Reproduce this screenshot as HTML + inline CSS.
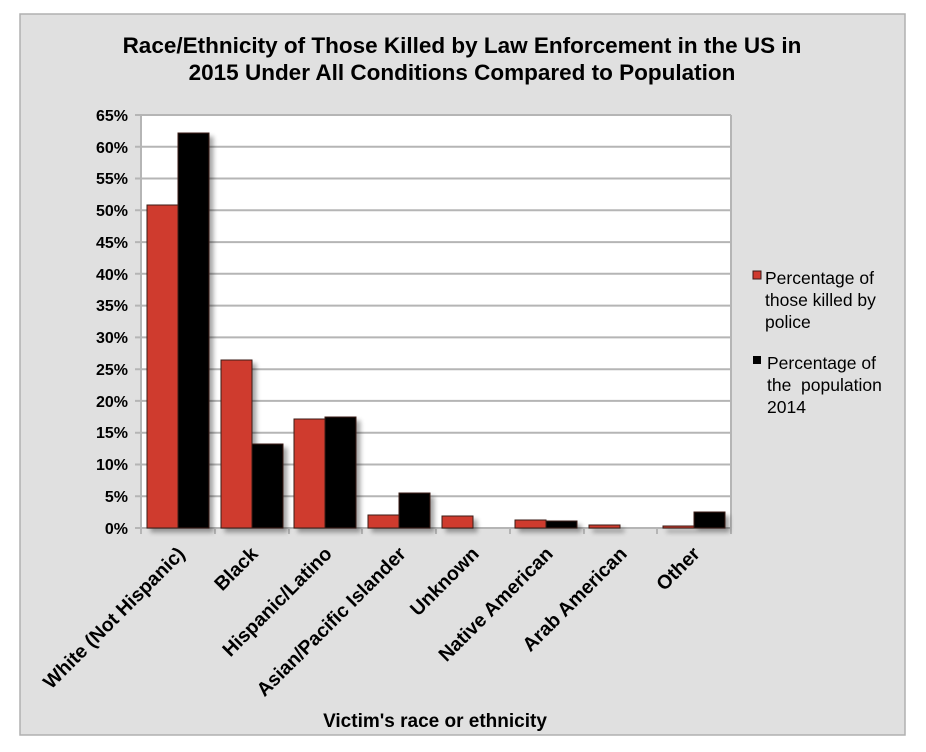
<!DOCTYPE html>
<html><head><meta charset="utf-8"><style>
html,body{margin:0;padding:0;background:#fff;width:926px;height:752px;overflow:hidden}
svg{display:block}
text{font-family:"Liberation Sans",Arial,sans-serif}
</style></head><body>
<svg width="926" height="752" viewBox="0 0 926 752" xmlns="http://www.w3.org/2000/svg">
<defs>
<filter id="sh" x="-20%" y="-10%" width="160%" height="130%">
<feGaussianBlur in="SourceAlpha" stdDeviation="2.5"/>
<feOffset dx="4" dy="4" result="b"/>
<feComponentTransfer><feFuncA type="linear" slope="0.35"/></feComponentTransfer>
<feMerge><feMergeNode/><feMergeNode in="SourceGraphic"/></feMerge>
</filter>
</defs>
<rect x="20" y="14" width="885" height="721" fill="#e0e0e0" stroke="#b0b0b0" stroke-width="1.5"/>
<text x="462" y="53" text-anchor="middle" font-size="22.5" font-weight="bold">Race/Ethnicity of Those Killed by Law Enforcement in the US in</text>
<text x="462" y="80" text-anchor="middle" font-size="22.5" font-weight="bold">2015 Under All Conditions Compared to Population</text>
<rect x="141" y="115" width="590" height="413" fill="#fff"/>
<g stroke="#b5b5b5" stroke-width="2">
<line x1="135" y1="115" x2="731" y2="115"/><line x1="135" y1="146.8" x2="731" y2="146.8"/><line x1="135" y1="178.5" x2="731" y2="178.5"/><line x1="135" y1="210.3" x2="731" y2="210.3"/><line x1="135" y1="242.1" x2="731" y2="242.1"/><line x1="135" y1="273.8" x2="731" y2="273.8"/><line x1="135" y1="305.6" x2="731" y2="305.6"/><line x1="135" y1="337.4" x2="731" y2="337.4"/><line x1="135" y1="369.2" x2="731" y2="369.2"/><line x1="135" y1="400.9" x2="731" y2="400.9"/><line x1="135" y1="432.7" x2="731" y2="432.7"/><line x1="135" y1="464.5" x2="731" y2="464.5"/><line x1="135" y1="496.2" x2="731" y2="496.2"/>
<line x1="135" y1="528" x2="731" y2="528"/>
<line x1="141" y1="115" x2="141" y2="534"/>
<line x1="731" y1="115" x2="731" y2="528"/>
<line x1="215" y1="528" x2="215" y2="534"/><line x1="289" y1="528" x2="289" y2="534"/><line x1="362" y1="528" x2="362" y2="534"/><line x1="436" y1="528" x2="436" y2="534"/><line x1="510" y1="528" x2="510" y2="534"/><line x1="584" y1="528" x2="584" y2="534"/><line x1="657" y1="528" x2="657" y2="534"/><line x1="731" y1="528" x2="731" y2="534"/>
</g>
<g font-size="16" font-weight="bold" text-anchor="end">
<text x="128" y="121">65%</text><text x="128" y="153">60%</text><text x="128" y="184">55%</text><text x="128" y="216">50%</text><text x="128" y="248">45%</text><text x="128" y="280">40%</text><text x="128" y="311">35%</text><text x="128" y="343">30%</text><text x="128" y="375">25%</text><text x="128" y="407">20%</text><text x="128" y="438">15%</text><text x="128" y="470">10%</text><text x="128" y="502">5%</text><text x="128" y="534">0%</text>
</g>
<g filter="url(#sh)" stroke="#3a1a18" stroke-width="1">
<rect x="147" y="205" width="31" height="323" fill="#cf3a2f"/>
<rect x="178" y="133" width="31" height="395" fill="#000"/>
<rect x="221" y="360" width="31" height="168" fill="#cf3a2f"/>
<rect x="252" y="444" width="31" height="84" fill="#000"/>
<rect x="294" y="419" width="31" height="109" fill="#cf3a2f"/>
<rect x="325" y="417" width="31" height="111" fill="#000"/>
<rect x="368" y="515" width="31" height="13" fill="#cf3a2f"/>
<rect x="399" y="493" width="31" height="35" fill="#000"/>
<rect x="442" y="516" width="31" height="12" fill="#cf3a2f"/>
<rect x="515" y="520" width="31" height="8" fill="#cf3a2f"/>
<rect x="546" y="521" width="31" height="7" fill="#000"/>
<rect x="589" y="525" width="31" height="3" fill="#cf3a2f"/>
<rect x="663" y="526" width="31" height="2" fill="#cf3a2f"/>
<rect x="694" y="512" width="31" height="16" fill="#000"/>
</g>
<g font-size="19.5" font-weight="bold" text-anchor="end">
<text transform="translate(186,555) rotate(-45)">White (Not Hispanic)</text>
<text transform="translate(259,555) rotate(-45)">Black</text>
<text transform="translate(333,555) rotate(-45)">Hispanic/Latino</text>
<text transform="translate(407,555) rotate(-45)">Asian/Pacific Islander</text>
<text transform="translate(480,555) rotate(-45)">Unknown</text>
<text transform="translate(554,555) rotate(-45)">Native American</text>
<text transform="translate(628,555) rotate(-45)">Arab American</text>
<text transform="translate(701,555) rotate(-45)">Other</text>
</g>
<text x="435" y="727" text-anchor="middle" font-size="19" font-weight="bold">Victim's race or ethnicity</text>
<rect x="753" y="271" width="8" height="8" fill="#cf3a2f" stroke="#3a1a18" stroke-width="1"/>
<rect x="753" y="356" width="8" height="8" fill="#000"/>
<g font-size="17.5">
<text x="765" y="284">Percentage of</text>
<text x="765" y="306">those killed by</text>
<text x="765" y="328">police</text>
<text x="767" y="369">Percentage of</text>
<text x="767" y="391">the&#160; population</text>
<text x="767" y="413">2014</text>
</g>
</svg>
</body></html>
